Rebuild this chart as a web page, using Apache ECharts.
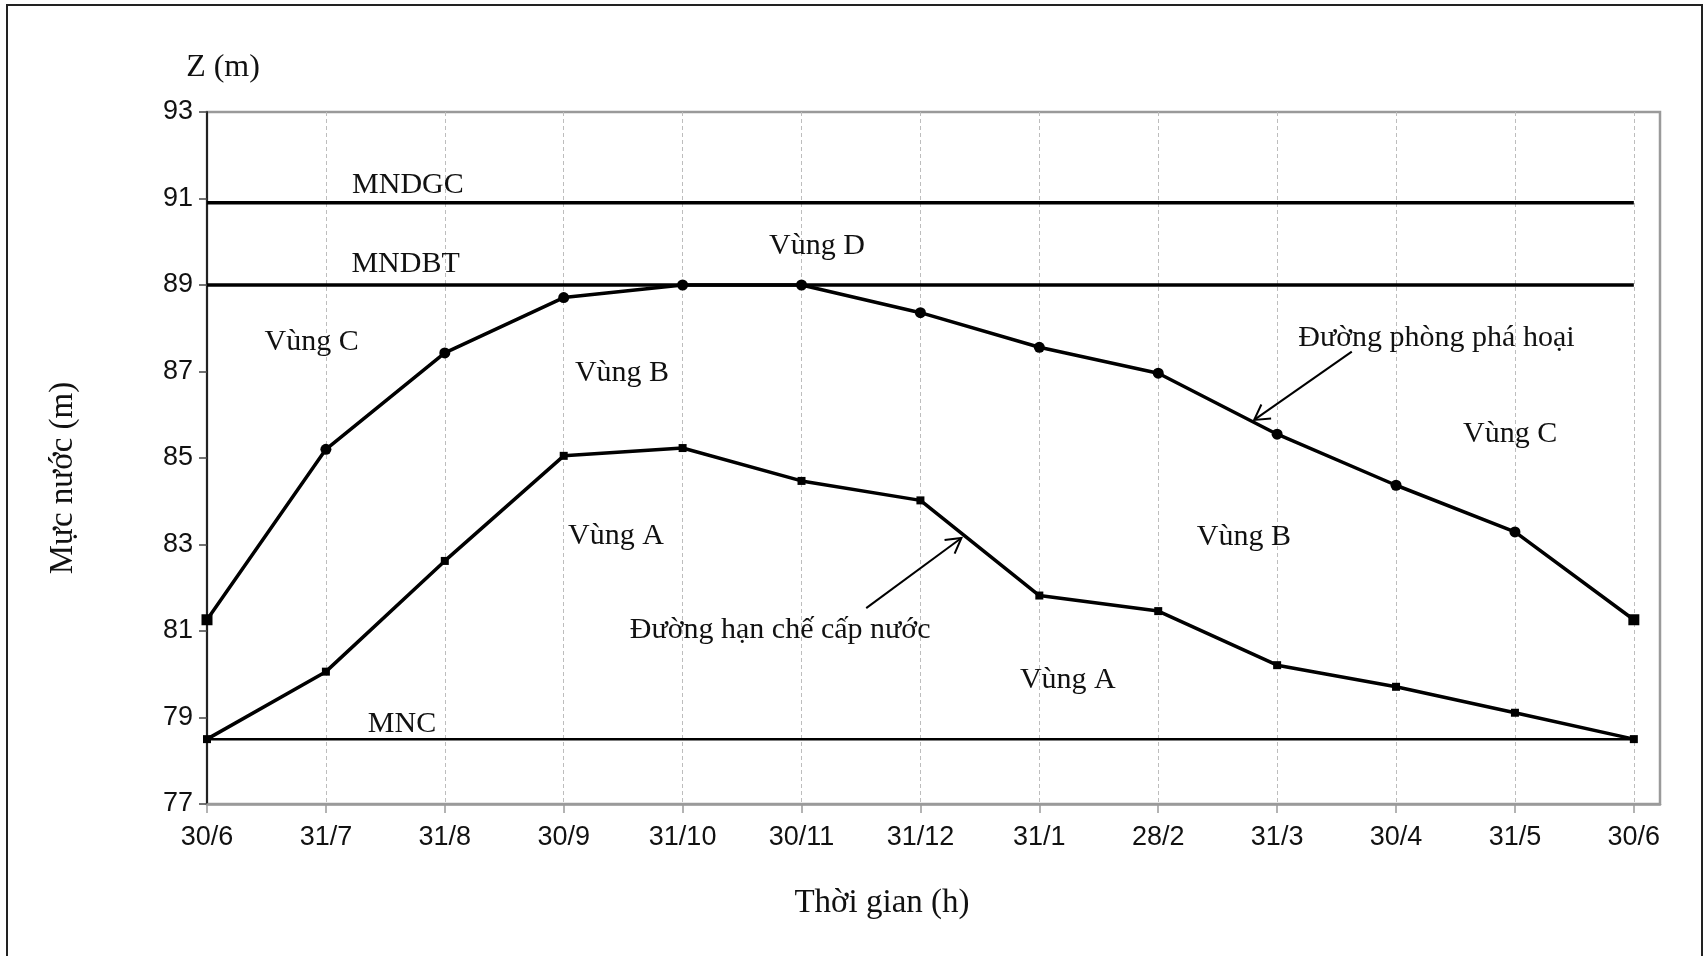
<!DOCTYPE html>
<html><head><meta charset="utf-8">
<script src="https://cdn.jsdelivr.net/npm/echarts@6/dist/echarts.min.js"></script>
<style>html,body{margin:0;padding:0;background:#fff}#c{width:1705px;height:956px}</style>
</head><body><div id="c"></div>
<script>
// ---- data ----
const categories = ['30/6','31/7','31/8','30/9','31/10','30/11','31/12','31/1','28/2','31/3','30/4','31/5','30/6'];
const phongPhaHoai = [81.26,85.2,87.43,88.71,89.0,89.0,88.36,87.56,86.96,85.55,84.37,83.29,81.26];
const hanCheCapNuoc = [78.5,80.06,82.62,85.05,85.23,84.47,84.02,81.82,81.46,80.21,79.71,79.11,78.5];
const levelNames = ['MNDGC','MNDBT','MNC'];
const levelValues = [90.9, 89.0, 78.5];
const annotations = [
  ['MNDGC', 1.69, 91.31], ['MNDBT', 1.67, 89.49], ['MNC', 1.64, 78.85],
  ['Vùng C', 0.88, 87.67], ['Vùng B', 3.49, 86.97], ['Vùng D', 5.13, 89.90],
  ['Vùng A', 3.44, 83.20], ['Đường phòng phá hoại', 10.34, 87.77],
  ['Vùng C', 10.96, 85.55], ['Vùng B', 8.72, 83.17],
  ['Đường hạn chế cấp nước', 4.82, 81.02], ['Vùng A', 7.24, 79.87]
];
const arrows = [
  [[9.628, 87.46], [8.807, 85.88]],
  [[5.544, 81.53], [6.345, 83.15]]
];

const idx = categories.map((c, i) => i);
const SERIF = '"Liberation Serif","Times New Roman",serif';
const SANS = '"Liberation Sans",Arial,sans-serif';

const chart = echarts.init(document.getElementById('c'));
const levelSeries = levelNames.map((n, k) => ({
  name: n, type: 'line', symbol: 'none', silent: true, z: 2,
  data: [[0, levelValues[k]], [categories.length - 1, levelValues[k]]],
  lineStyle: { color: '#000', width: n === 'MNC' ? 2.5 : 3.5 }
}));

chart.setOption({
  animation: false,
  grid: { left: 207, right: 45, top: 112, bottom: 152, show: true, borderColor: '#9a9a9a', borderWidth: 2.5, backgroundColor: 'transparent' },
  xAxis: {
    type: 'value', min: 0, max: 12.22,
    axisLine: { show: true, lineStyle: { color: '#9a9a9a', width: 2.5 } },
    axisTick: { show: true, length: 9, customValues: idx, lineStyle: { color: '#9a9a9a', width: 1.5 } },
    axisLabel: { customValues: idx, margin: 20, color: '#111', fontFamily: SANS, fontSize: 27,
      formatter: v => categories[Math.round(v)] },
    splitLine: { show: true, lineStyle: { color: '#bdbdbd', width: 1, type: [4, 3] } }
  },
  yAxis: {
    type: 'value', min: 77, max: 93, interval: 2,
    axisLine: { show: true, lineStyle: { color: '#222', width: 2 } },
    axisTick: { show: true, length: 8, lineStyle: { color: '#444', width: 1.5 } },
    axisLabel: { margin: 14, color: '#111', fontFamily: SANS, fontSize: 27 },
    splitLine: { show: false }
  },
  series: [
    ...levelSeries,
    {
      name: 'Đường phòng phá hoại', type: 'line', z: 3,
      data: phongPhaHoai.map((v, i) => (i === 0 || i === phongPhaHoai.length - 1)
        ? { value: [i, v], symbol: 'rect', symbolSize: 11 } : [i, v]),
      symbol: 'circle', symbolSize: 11, showAllSymbol: true,
      itemStyle: { color: '#000' }, lineStyle: { color: '#000', width: 3.5 }
    },
    {
      name: 'Đường hạn chế cấp nước', type: 'line', z: 3,
      data: hanCheCapNuoc.map((v, i) => [i, v]),
      symbol: 'rect', symbolSize: 8, showAllSymbol: true,
      itemStyle: { color: '#000' }, lineStyle: { color: '#000', width: 3.5 }
    }
  ]
});

function px(p) { return chart.convertToPixel({ gridIndex: 0 }, p); }
const graphics = [
  { type: 'rect', shape: { x: 7, y: 5, width: 1695, height: 960 }, style: { fill: 'none', stroke: '#222', lineWidth: 2 }, silent: true },
  { type: 'text', x: 223, y: 68, style: { text: 'Z (m)', font: '32px ' + SERIF, fill: '#111', align: 'center', verticalAlign: 'middle' } },
  { type: 'text', x: 882, y: 903, style: { text: 'Thời gian (h)', font: '33px ' + SERIF, fill: '#111', align: 'center', verticalAlign: 'middle' } },
  { type: 'text', x: 63, y: 478, rotation: Math.PI / 2, style: { text: 'Mực nước (m)', font: '33px ' + SERIF, fill: '#111', align: 'center', verticalAlign: 'middle' } }
];
annotations.forEach(a => {
  const p = px([a[1], a[2]]);
  graphics.push({ type: 'text', x: p[0], y: p[1], z: 10,
    style: { text: a[0], font: '30px ' + SERIF, fill: '#111', align: 'center', verticalAlign: 'middle' } });
});
arrows.forEach(ar => {
  const t = px(ar[0]), h = px(ar[1]);
  const ang = Math.atan2(h[1] - t[1], h[0] - t[0]);
  const L = 17, w = Math.PI / 6;
  const a1 = [h[0] - L * Math.cos(ang - w), h[1] - L * Math.sin(ang - w)];
  const a2 = [h[0] - L * Math.cos(ang + w), h[1] - L * Math.sin(ang + w)];
  graphics.push({ type: 'line', z: 10, shape: { x1: t[0], y1: t[1], x2: h[0], y2: h[1] }, style: { stroke: '#000', lineWidth: 2 } });
  graphics.push({ type: 'polyline', z: 10, shape: { points: [a1, h, a2] }, style: { stroke: '#000', lineWidth: 2, fill: 'none' } });
});
chart.setOption({ graphic: graphics });
</script></body></html>
